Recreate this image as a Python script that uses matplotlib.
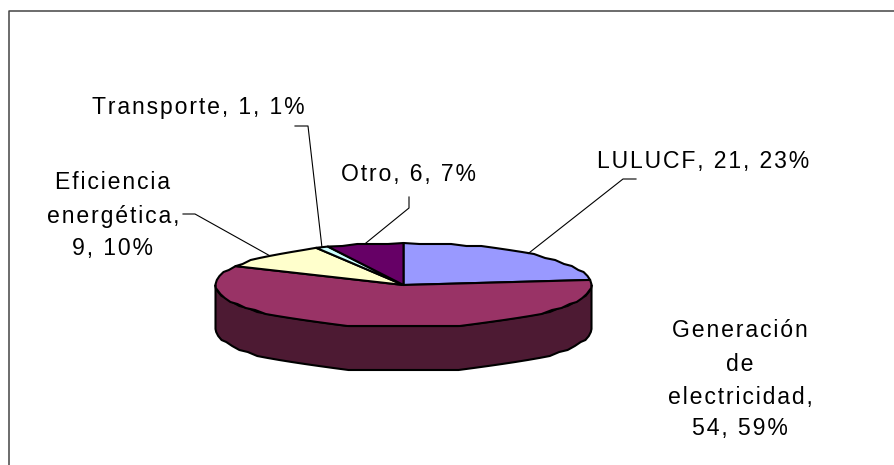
import numpy as np
import matplotlib
matplotlib.use("Agg")
import matplotlib.pyplot as plt
from matplotlib.patches import Polygon

# Data
categories = ["LULUCF", "Generación\nde\nelectricidad", "Eficiencia\nenergética", "Transporte", "Otro"]
values = [21, 54, 9, 1, 6]
percents = [23, 59, 10, 1, 7]
colors = ["#9999FF", "#993366", "#FFFFCC", "#CCFFFF", "#660066"]

label_lines = [
    ["LULUCF, 21, 23%"],
    ["Generación", "de", "electricidad,", "54, 59%"],
    ["Eficiencia", "energética,", "9, 10%"],
    ["Transporte, 1, 1%"],
    ["Otro, 6, 7%"],
]
label_x = [703, 740, 113, 198, 409]
label_y = [[161], [330, 364, 397, 428], [182, 216, 248], [107], [174]]
leader_start = [[(636, 179), (623, 179)], None, [(183, 214), (195, 214)], [(295, 126), (308, 126)], [(409, 197), (409, 208)]]

plt.rcParams["font.family"] = ["Liberation Sans", "DejaVu Sans"]

fig = plt.figure(figsize=(8.95, 4.65), dpi=100)
ax = fig.add_axes([0, 0, 1, 1])
ax.set_xlim(0, 895)
ax.set_ylim(465, 0)
ax.axis("off")

cx, cy = 403.5, 285
rx, ry = 188, 42
depth = 44


def ell(deg, dy=0):
    # angle clockwise from 12 o'clock
    a = np.radians(deg)
    return cx + rx * np.sin(a), cy - ry * np.cos(a) + dy


def arc(a0, a1, dy=0):
    # slightly stepped outline, the original edge is not smooth
    n = max(2, int(abs(a1 - a0) / 5) + 2)
    t = np.linspace(a0, a1, n)
    x, y = ell(t, dy)
    y[1:-1] = np.round(y[1:-1] / 2) * 2
    return np.column_stack([x, y])


bounds = np.concatenate([[0], np.cumsum(values)]) * 360 / sum(values)

# side wall, only the front half shows
for i in range(len(values)):
    a0, a1 = max(bounds[i], 90), min(bounds[i + 1], 270)
    if a1 > a0:
        top = arc(a0, a1)
        bot = arc(a1, a0, depth)
        ax.add_patch(Polygon(np.vstack([top, bot]), closed=True, fc="#4D1A33", ec="black", lw=1.5, joinstyle="round"))

# top of the pie
for i in range(len(values)):
    pts = np.vstack([[cx, cy], arc(bounds[i], bounds[i + 1])])
    ax.add_patch(Polygon(pts, closed=True, fc=colors[i], ec="black", lw=1.5, joinstyle="round"))

# leader lines go to the middle of each wedge edge
for i in range(len(values)):
    if leader_start[i] is None:
        continue
    end = ell((bounds[i] + bounds[i + 1]) / 2)
    xs = [p[0] for p in leader_start[i]] + [end[0]]
    ys = [p[1] for p in leader_start[i]] + [end[1]]
    ax.plot(xs, ys, color="black", lw=0.8)

# labels, letter spaced like the original
for i in range(len(values)):
    for line, y in zip(label_lines[i], label_y[i]):
        ax.text(label_x[i], y, "\u200a".join(line), ha="center", va="center", fontsize=16.6, color="black")

# frame, only top and left show
ax.plot([895, 9, 9], [11, 11, 465], color="#444444", lw=1.1)

fig.savefig("out.png", dpi=100)
